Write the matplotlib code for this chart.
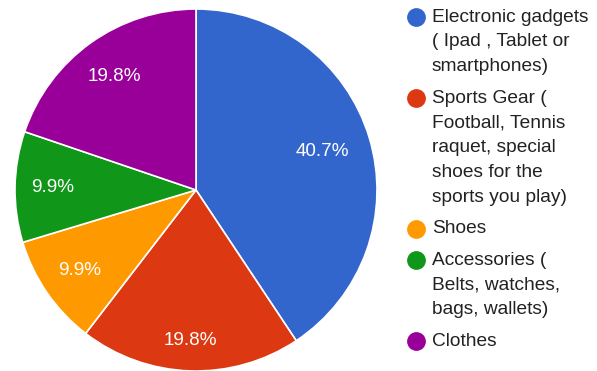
import numpy as np
import matplotlib
matplotlib.use("Agg")
import matplotlib.pyplot as plt
from matplotlib.lines import Line2D

categories = [
    "Electronic gadgets\n( Ipad , Tablet or\nsmartphones)",
    "Sports Gear (\nFootball, Tennis\nraquet, special\nshoes for the\nsports you play)",
    "Shoes",
    "Accessories (\nBelts, watches,\nbags, wallets)",
    "Clothes",
]
shares = [40.7, 19.8, 9.9, 9.9, 19.8]
colors = ["#3366cc", "#dc3912", "#ff9900", "#109618", "#990099"]
label_radius = [0.73, 0.83, 0.78, 0.79, 0.77]

W, H = 597, 371
fig = plt.figure(figsize=(W / 100, H / 100), dpi=100)
fig.patch.set_facecolor("white")

# pie axes: centre (196, 190) px, radius 181 px
cx, cy, r = 196, 190, 181
ax = fig.add_axes([(cx - r) / W, (H - cy - r) / H, 2 * r / W, 2 * r / H])
ax.axis("off")

wedges, _ = ax.pie(shares, colors=colors, startangle=90, counterclock=False,
                   radius=1.0, wedgeprops=dict(edgecolor="white", linewidth=1.2))
ax.set_xlim(-1, 1)
ax.set_ylim(-1, 1)
ax.set_aspect("equal")

for w, v, rr in zip(wedges, shares, label_radius):
    mid = np.deg2rad((w.theta1 + w.theta2) / 2)
    ax.text(rr * np.cos(mid), rr * np.sin(mid), f"{v}%", color="white",
            fontsize=13.6, family="Liberation Sans", ha="center", va="center")

# legend
line_h = 24.8
item_gap = 31.5
y = 17
for lab, c in zip(categories, colors):
    fig.add_artist(Line2D([416 / W], [1 - y / H], marker="o", markersize=12.5,
                          color=c, linestyle="none"))
    lines = lab.split("\n")
    for i, ln in enumerate(lines):
        fig.text(432 / W, 1 - (y + i * line_h) / H, ln, fontsize=13.8,
                 family="Liberation Sans", color="#222222", ha="left", va="center")
    y += (len(lines) - 1) * line_h + item_gap

fig.savefig("out.png", dpi=100)
